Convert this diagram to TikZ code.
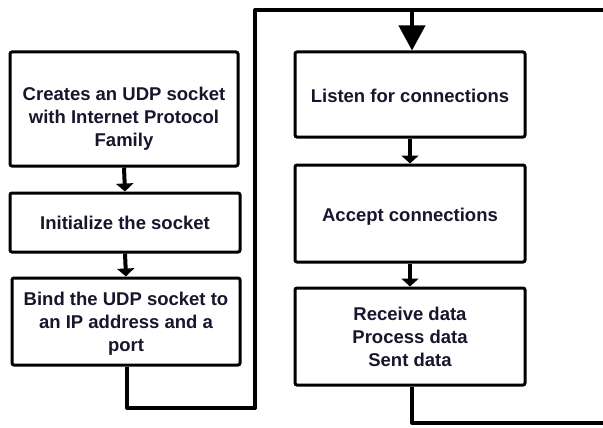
\documentclass[tikz,border=0pt]{standalone}
\usepackage{fontspec}
\setmainfont{Liberation Sans}
\usetikzlibrary{arrows.meta}
\definecolor{txt}{RGB}{22,22,45}
\begin{document}
\begin{tikzpicture}[x=1pt,y=-1pt,
  box/.style={draw=black,line width=3pt,rounded corners=2pt,fill=white,
    align=center,inner sep=0pt,text=txt,
    font=\bfseries\fontsize{18.5}{23}\selectfont},
  conn/.style={line width=4pt},
  arr/.style={conn,-{Triangle[width=17pt,length=8pt]}},
  bigarr/.style={conn,-{Triangle[width=26pt,length=25pt]}}]
\useasboundingbox (0,0) rectangle (603,428);
\node[box,minimum width=228pt,minimum height=114pt] (b1) at (124,109)
  {\rule{0pt}{33pt}Creates an UDP socket\\with Internet Protocol\\Family};
\node[box,minimum width=230pt,minimum height=59pt] (b2) at (125,222.5)
  {Initialize the socket};
\node[box,minimum width=228pt,minimum height=87pt] (b3) at (126,321.5)
  {\rule{0pt}{17pt}Bind the UDP socket to\\an IP address and a\\port};
\node[box,minimum width=230pt,minimum height=85pt] (b4) at (410,94.5)
  {\rule{0pt}{17pt}Listen for connections};
\node[box,minimum width=230pt,minimum height=97pt] (b5) at (410,213.5)
  {\rule{0pt}{19.5pt}Accept connections};
\node[box,minimum width=230pt,minimum height=97pt] (b6) at (410,336.5)
  {Receive data\\Process data\\Sent data};
\coordinate (lb) at (255,408);
\coordinate (tr) at (603,10);
\coordinate (tj) at (412,10);
\coordinate (br) at (603,423);
\draw[arr] (b1.south) -- (b2.north);
\draw[arr] (b2.south) -- (b3.north);
\draw[arr] (b4.south) -- (b5.north);
\draw[arr] (b5.south) -- (b6.north);
\draw[conn,line join=round] ([xshift=1pt]b3.south) |- (lb) |- (tr);
\draw[bigarr] (tj) -- ([xshift=2pt]b4.north);
\draw[conn,line join=round] ([xshift=2pt]b6.south) |- (br);
\end{tikzpicture}
\end{document}
